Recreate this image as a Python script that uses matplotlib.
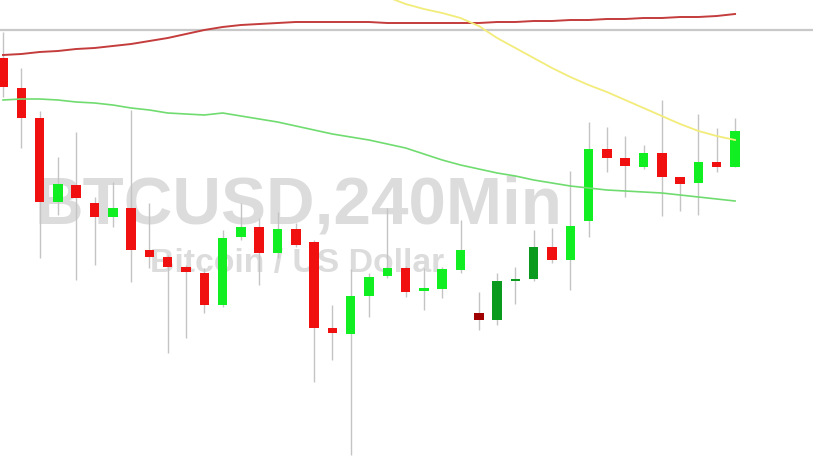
import matplotlib
matplotlib.use('Agg')
import matplotlib.pyplot as plt

# 4h BTCUSD candles (oldest -> newest)
opens  = [8710, 8560, 8410, 7990, 8075, 7985, 7915, 7960, 7750, 7715,
          7665, 7635, 7475, 7815, 7865, 7735, 7855, 7790, 7360, 7330,
          7520, 7620, 7660, 7545, 7555, 7650, 7435, 7400, 7595, 7605,
          7765, 7700, 7895, 8255, 8210, 8165, 8235, 8115, 8085, 8190, 8165]
highs  = [8840, 8660, 8445, 8215, 8340, 8015, 8090, 8450, 7985, 7725,
          7675, 7660, 7850, 7985, 7910, 7940, 7885, 7800, 7475, 7655,
          7635, 7960, 7670, 7660, 7665, 7900, 7540, 7635, 7665, 7850,
          7860, 8145, 8390, 8365, 8320, 8275, 8500, 8115, 8430, 8360, 8410]
lows   = [8515, 8260, 7710, 7925, 7600, 7675, 7865, 7590, 7660, 7235,
          7310, 7435, 7465, 7800, 7575, 7710, 7765, 7090, 7200, 6725,
          7415, 7610, 7515, 7450, 7510, 7635, 7350, 7375, 7480, 7595,
          7685, 7550, 7815, 8140, 8015, 8155, 7920, 7945, 7925, 8140, 8165]
closes = [8565, 8410, 7990, 8080, 8010, 7915, 7960, 7750, 7715, 7665,
          7640, 7475, 7810, 7865, 7735, 7855, 7775, 7360, 7335, 7520,
          7615, 7660, 7540, 7560, 7655, 7750, 7400, 7595, 7605, 7765,
          7700, 7870, 8255, 8210, 8170, 8235, 8115, 8080, 8190, 8165, 8345]
dark_bars = [26, 27, 28, 29]

# moving averages, one value per candle
ma_green = [8500, 8505, 8505, 8500, 8490, 8485, 8475, 8460, 8450, 8435,
            8430, 8425, 8435, 8420, 8405, 8390, 8370, 8350, 8330, 8315,
            8300, 8280, 8260, 8230, 8200, 8175, 8155, 8135, 8120, 8100,
            8085, 8070, 8060, 8050, 8045, 8040, 8035, 8025, 8015, 8005, 7995]
ma_red = [8725, 8730, 8740, 8745, 8755, 8760, 8770, 8780, 8795, 8810,
          8830, 8850, 8865, 8875, 8880, 8885, 8890, 8890, 8890, 8890,
          8890, 8885, 8885, 8885, 8885, 8885, 8885, 8890, 8890, 8895,
          8895, 8900, 8900, 8905, 8905, 8910, 8910, 8915, 8915, 8920, 8930]
ma_yellow_start = 20
ma_yellow = [9045, 9015, 8980, 8955, 8935, 8910, 8870, 8810, 8760, 8710,
             8660, 8615, 8575, 8540, 8500, 8460, 8420, 8380, 8345, 8320, 8300]
price_line = 8850

fig = plt.figure(figsize=(8.13, 4.57), dpi=100)
ax = fig.add_axes([0, 0, 1, 1])
ax.set_xlim(-0.164, 44.26)
ax.set_ylim(6715, 9000)
ax.axis('off')

# watermark
ax.text(0.3665, 0.512, 'BTCUSD,240Min', transform=ax.transAxes, ha='center',
        va='baseline', fontsize=48.5, fontweight='bold', color='#dcdcdc',
        family='Liberation Sans', zorder=0)
ax.text(0.366, 0.405, 'Bitcoin / US Dollar', transform=ax.transAxes, ha='center',
        va='baseline', fontsize=24.3, fontweight='bold', color='#dcdcdc',
        family='Liberation Sans', zorder=0)

ax.axhline(price_line, color='#c8c8c8', lw=1.6, zorder=1)

for i in range(len(opens)):
    up = closes[i] >= opens[i]
    if i in dark_bars:
        col = '#0a9a1e' if up else '#a00000'
    else:
        col = '#11ee22' if up else '#f01010'
    ax.vlines(i, lows[i], highs[i], color='#c4c4c4', lw=1, zorder=2)
    h = closes[i] - opens[i]
    if abs(h) < 12:
        h = 12 if up else -12
    ax.bar(i, h, bottom=opens[i], width=0.52, color=col, zorder=3)

xs = list(range(len(opens)))
ax.plot(xs, ma_green, color='#70dc70', lw=1.2, zorder=4)
ax.plot(xs, ma_red, color='#c43c3c', lw=1.4, zorder=4)
ax.plot(xs[ma_yellow_start:], ma_yellow, color='#f2ec7a', lw=1.3, zorder=4)

plt.savefig('out.png', dpi=100)
